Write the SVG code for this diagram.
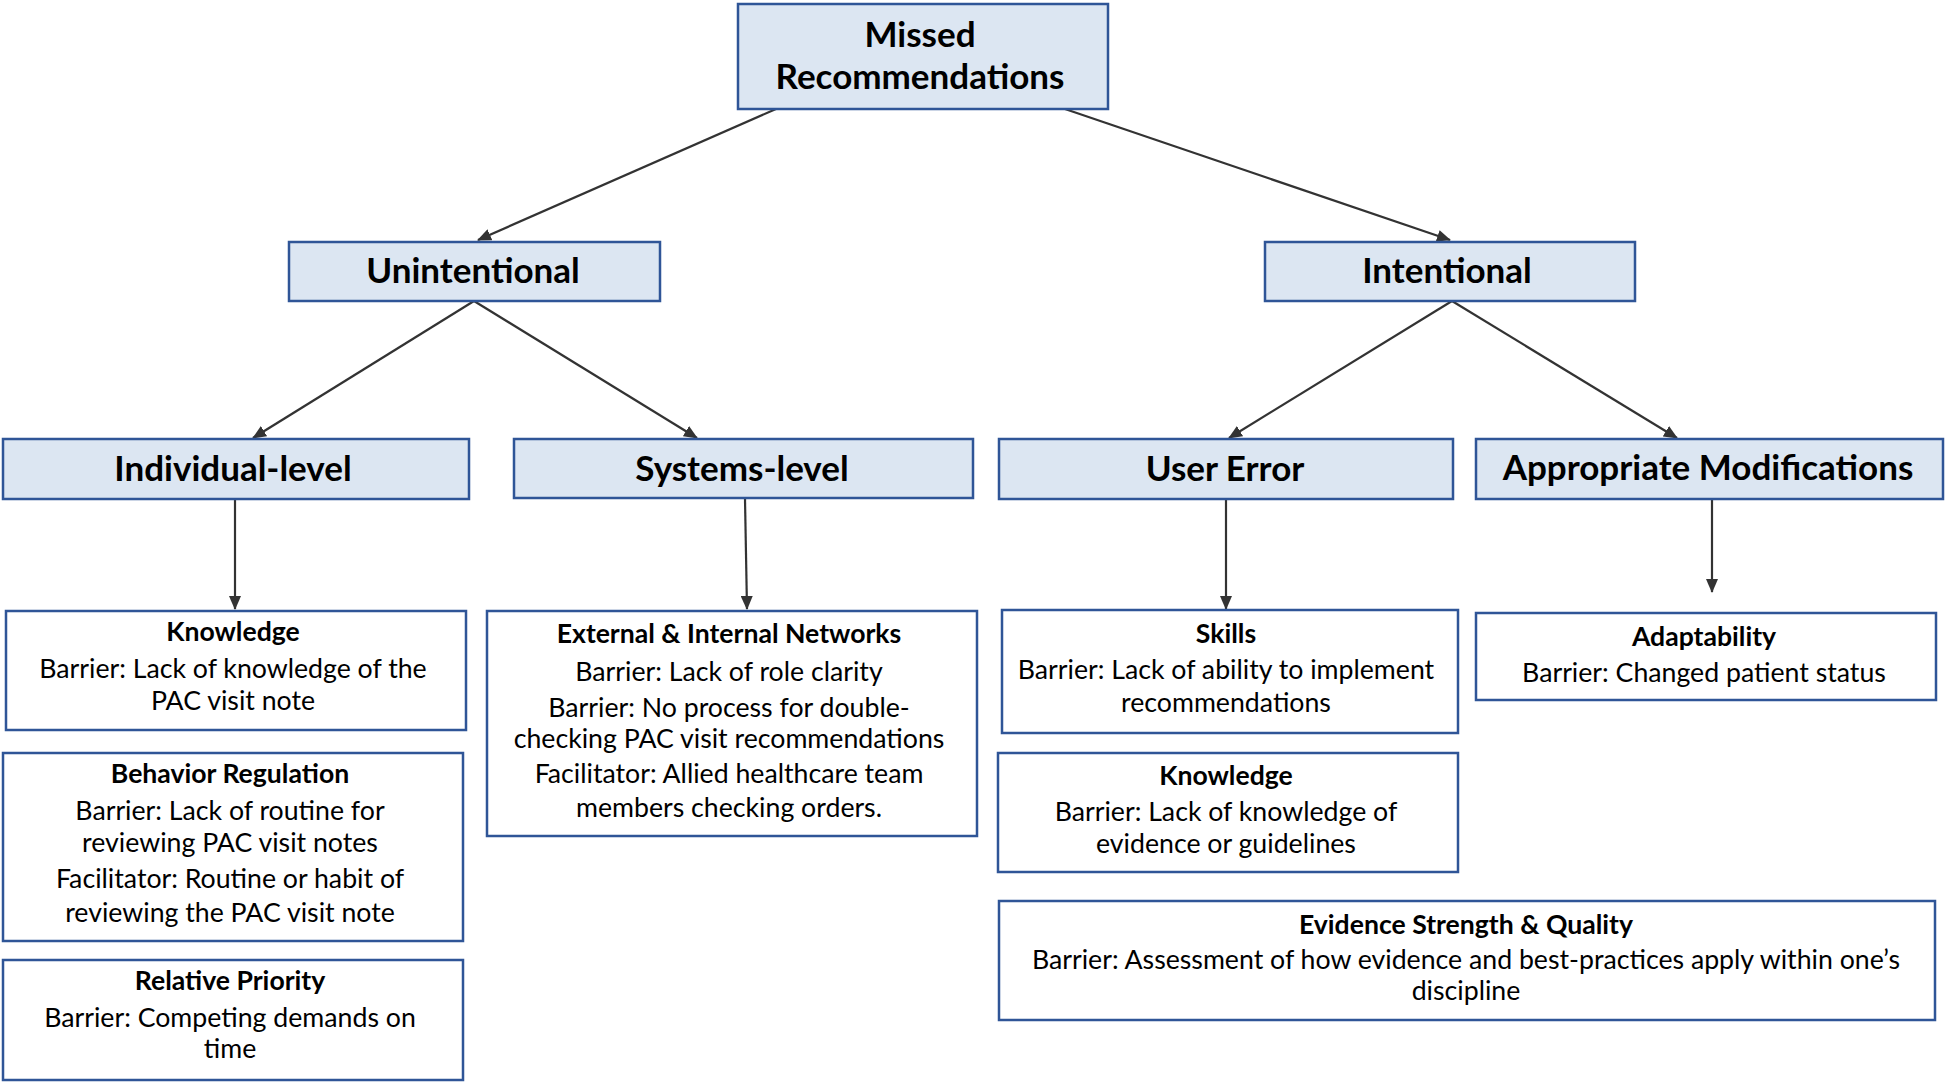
<svg xmlns="http://www.w3.org/2000/svg" width="1946" height="1084" viewBox="0 0 1946 1084">
<style>
.hdr{fill:#dce6f2;stroke:#2f5597;stroke-width:2.5}
.leaf{fill:#ffffff;stroke:#2f5597;stroke-width:2.5}
.ht{font-family:Lato,"Open Sans",sans-serif;font-weight:bold;font-size:35px;fill:#000;text-anchor:middle}
.tt{font-family:Lato,"Open Sans",sans-serif;font-weight:bold;font-size:26.6px;fill:#000;text-anchor:middle}
.bt{font-family:Lato,"Open Sans",sans-serif;font-size:26.7px;fill:#000;text-anchor:middle}
.con{stroke:#333;stroke-width:2.2;fill:none;marker-end:url(#ah)}
</style>
<defs>
<marker id="ah" markerUnits="userSpaceOnUse" markerWidth="14" markerHeight="12" refX="13" refY="6" orient="auto">
<path d="M0,0 L14,6 L0,12 Z" fill="#333"/>
</marker>
</defs>
<rect width="1946" height="1084" fill="#ffffff"/>
<g id="connectors">
<line class="con" x1="776" y1="109" x2="478" y2="240"/>
<line class="con" x1="1065" y1="109" x2="1450" y2="240"/>
<line class="con" x1="474" y1="301" x2="253" y2="438"/>
<line class="con" x1="474" y1="301" x2="697" y2="438"/>
<line class="con" x1="1452" y1="301" x2="1229" y2="438"/>
<line class="con" x1="1452" y1="301" x2="1677" y2="438"/>
<line class="con" x1="235" y1="499" x2="235" y2="609"/>
<line class="con" x1="745" y1="499" x2="747" y2="609"/>
<line class="con" x1="1226" y1="499" x2="1226" y2="609"/>
<line class="con" x1="1712" y1="499" x2="1712" y2="592"/>
</g>
<g id="missed">
<rect class="hdr" x="738" y="4" width="370" height="105"/>
<text class="ht" x="920" y="47">Missed</text>
<text class="ht" x="920" y="89">Recommendations</text>
</g>
<g id="unintentional">
<rect class="hdr" x="289" y="242" width="371" height="59"/>
<text class="ht" x="473" y="283">Unintentional</text>
</g>
<g id="intentional">
<rect class="hdr" x="1265" y="242" width="370" height="59"/>
<text class="ht" x="1447" y="283">Intentional</text>
</g>
<g id="individual">
<rect class="hdr" x="3" y="439" width="466" height="60"/>
<text class="ht" x="233" y="481">Individual-level</text>
</g>
<g id="systems">
<rect class="hdr" x="514" y="439" width="459" height="59"/>
<text class="ht" x="742" y="481">Systems-level</text>
</g>
<g id="usererror">
<rect class="hdr" x="999" y="439" width="454" height="60"/>
<text class="ht" x="1225" y="481">User Error</text>
</g>
<g id="appropriate">
<rect class="hdr" x="1476" y="439" width="467" height="60"/>
<text class="ht" x="1708" y="480">Appropriate Modifications</text>
</g>
<g id="knowledge1">
<rect class="leaf" x="6" y="611" width="460" height="119"/>
<text class="tt" x="233" y="641">Knowledge</text>
<text class="bt" x="233" y="678">Barrier: Lack of knowledge of the</text>
<text class="bt" x="233" y="710">PAC visit note</text>
</g>
<g id="behavior">
<rect class="leaf" x="3" y="753" width="460" height="188"/>
<text class="tt" x="230" y="783">Behavior Regulation</text>
<text class="bt" x="230" y="820">Barrier: Lack of routine for</text>
<text class="bt" x="230" y="852">reviewing PAC visit notes</text>
<text class="bt" x="230" y="888">Facilitator: Routine or habit of</text>
<text class="bt" x="230" y="922">reviewing the PAC visit note</text>
</g>
<g id="relative">
<rect class="leaf" x="3" y="960" width="460" height="120"/>
<text class="tt" x="230" y="990">Relative Priority</text>
<text class="bt" x="230" y="1027">Barrier: Competing demands on</text>
<text class="bt" x="230" y="1058">time</text>
</g>
<g id="networks">
<rect class="leaf" x="487" y="611" width="490" height="225"/>
<text class="tt" x="729" y="643">External &amp; Internal Networks</text>
<text class="bt" x="729" y="681">Barrier: Lack of role clarity</text>
<text class="bt" x="729" y="717">Barrier: No process for double-</text>
<text class="bt" x="729" y="748">checking PAC visit recommendations</text>
<text class="bt" x="729" y="783">Facilitator: Allied healthcare team</text>
<text class="bt" x="729" y="817">members checking orders.</text>
</g>
<g id="skills">
<rect class="leaf" x="1002" y="610" width="456" height="123"/>
<text class="tt" x="1226" y="643">Skills</text>
<text class="bt" x="1226" y="679">Barrier: Lack of ability to implement</text>
<text class="bt" x="1226" y="712">recommendations</text>
</g>
<g id="knowledge2">
<rect class="leaf" x="998" y="753" width="460" height="119"/>
<text class="tt" x="1226" y="785">Knowledge</text>
<text class="bt" x="1226" y="821">Barrier: Lack of knowledge of</text>
<text class="bt" x="1226" y="853">evidence or guidelines</text>
</g>
<g id="evidence">
<rect class="leaf" x="999" y="901" width="936" height="119"/>
<text class="tt" x="1466" y="934">Evidence Strength &amp; Quality</text>
<text class="bt" x="1466" y="969">Barrier: Assessment of how evidence and best-practices apply within one’s</text>
<text class="bt" x="1466" y="1000">discipline</text>
</g>
<g id="adaptability">
<rect class="leaf" x="1476" y="613" width="460" height="87"/>
<text class="tt" x="1704" y="646">Adaptability</text>
<text class="bt" x="1704" y="682">Barrier: Changed patient status</text>
</g>
</svg>
